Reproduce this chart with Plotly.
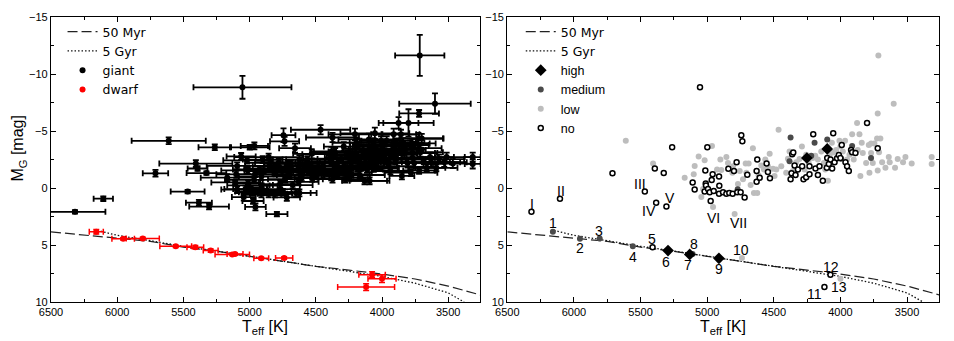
import plotly.graph_objects as go

# ---------------- data ----------------
# isochrones
iso50_teff = [6500, 6250, 6000, 5750, 5500, 5250, 5000, 4750, 4500, 4250, 4000, 3750, 3500, 3250]
iso50_mg = [3.85, 4.12, 4.38, 4.68, 5.19, 5.55, 5.99, 6.44, 6.87, 7.20, 7.55, 7.98, 8.60, 9.40]
iso5_teff = [6150, 6000, 5750, 5500, 5250, 5000, 4750, 4500, 4250, 4000, 3750, 3500, 3380]
iso5_mg = [3.72, 4.15, 4.62, 5.12, 5.53, 5.97, 6.42, 6.88, 7.26, 7.76, 8.35, 9.20, 10.0]

# giants, activity "no" (open circles)
no_teff = [6319, 6105, 5711, 5468, 5383, 5393, 5326, 5306, 5263, 5054, 5109, 5094, 5014, 4999,
           5011, 5009, 5019, 4994, 4981, 4966, 4959, 4951, 4974, 4911, 4909, 4911, 4881, 4856,
           4841, 4834, 4809, 4799, 4779, 4774, 4749, 4744, 4736, 4719, 4699, 4629, 4624, 4606,
           4629, 4554, 4544, 4529, 4374, 4367, 4362, 4354, 4344, 4337, 4319, 4287, 4277, 4257,
           4232, 4232, 4204, 4187, 4169, 4157, 4132, 4102, 4099, 4087, 4074, 4062, 4054, 4044,
           4025, 4012, 4000, 3990, 3962, 3950, 3937, 3920, 3912, 3887, 3800, 3720]
no_mg = [2.09, 0.94, -1.29, 0.31, 1.29, -1.71, -1.31, 1.63, -3.57, -8.83, -0.49, 0.14, -1.54, -3.57,
         -0.40, -0.23, 0.31, 0.09, 0.37, -0.71, -1.20, 0.26, 1.14, -1.00, -0.20, 0.51, 0.37, 0.51,
         -1.69, 0.43, 0.51, -1.49, -2.26, 0.37, 0.37, -4.63, -4.09, 0.83, -1.17, -0.54, -2.49, -0.91,
         -1.49, -2.14, -1.40, -0.86, -0.77, -1.29, -2.97, -3.11, -1.97, -1.14, -1.63, -1.91, -0.77, -0.94,
         -1.91, -1.20, -4.71, -1.71, -1.14, -1.91, -0.63, -1.77, -2.63, -2.11, -2.49, -1.71, -4.80, -2.26,
         -2.60, -2.89, -2.63, -3.77, -2.26, -1.91, -1.49, -3.34, -3.14, -3.06, -5.71, -3.49]
no_eteff = [230, 73, 96, 128, 98, 75, 150, 150, 123, 370, 180, 120, 200, 150,
            110, 160, 90, 130, 100, 220, 140, 90, 80, 170, 120, 150, 110, 140,
            200, 100, 130, 240, 180, 90, 120, 90, 110, 100, 260, 150, 200, 120,
            180, 220, 160, 130, 140, 200, 240, 160, 180, 120, 210, 150, 170, 110,
            250, 140, 200, 160, 190, 130, 170, 230, 150, 200, 120, 180, 260, 140,
            210, 170, 120, 230, 160, 190, 140, 250, 180, 150, 190, 170]
no_emg = [0.15, 0.2, 0.3, 0.15, 0.25, 0.2, 0.15, 0.25, 0.25, 1.0, 0.2, 0.3, 0.3, 0.2,
          0.3, 0.25, 0.3, 0.2, 0.3, 0.3, 0.25, 0.3, 0.25, 0.3, 0.2, 0.3, 0.25, 0.3,
          0.3, 0.2, 0.3, 0.3, 0.3, 0.25, 0.3, 0.6, 0.4, 0.3, 0.3, 0.3, 0.4, 0.3,
          0.3, 0.4, 0.3, 0.3, 0.3, 0.3, 0.4, 0.4, 0.3, 0.3, 0.3, 0.4, 0.3, 0.3,
          0.4, 0.3, 0.5, 0.3, 0.3, 0.4, 0.3, 0.4, 0.4, 0.4, 0.4, 0.3, 0.5, 0.4,
          0.4, 0.4, 0.3, 0.5, 0.4, 0.4, 0.3, 0.5, 0.4, 0.4, 1.2, 0.4]

# giants, activity "low" (light grey)
low_teff = [5611, 5406, 5169, 5101, 5064, 5094, 5031, 5044, 5019, 4964, 4956, 4926, 4901, 4894,
            4856, 4844, 4811, 4806, 4794, 4769, 4756, 4731, 4711, 4706, 4689, 4674, 4657, 4649,
            4624, 4614, 4594, 4574, 4564, 4544, 4531, 4506, 4494, 4481, 4464, 4444, 4407, 4394,
            4382, 4357, 4332, 4307, 4289, 4269, 4257, 4239, 4207, 4189, 4169, 4144, 4124, 4114,
            4094, 4082, 4064, 4057, 4032, 4007, 4000, 3982, 3965, 3950, 3932, 3912, 3900, 3875,
            3870, 3857, 3850, 3840, 3832, 3807, 3787, 3782, 3770, 3757, 3745, 3725, 3720, 3720,
            3715, 3700, 3687, 3662, 3637, 3630, 3600, 3590, 3570, 3530, 3512, 3465, 3315, 3315,
            3710, 3770]
low_mg = [-4.14, -2.14, -0.91, -1.20, -2.77, -1.94, 0.09, 0.80, -2.43, -3.69, 1.66, -1.63, -2.49, -1.57,
          -2.71, -2.20, -1.34, -1.91, 2.29, -0.34, -1.49, -0.77, -2.14, -1.34, -2.14, -0.26, -3.49, 0.43,
          0.43, -1.11, -1.97, -1.63, -2.49, -1.91, -3.00, -1.69, -1.06, -1.63, -5.11, -1.91, -1.34, -2.57,
          -3.20, -1.49, -2.26, -2.54, -3.63, -1.63, -2.91, -2.26, -2.63, -2.83, -2.49, -3.20, -2.20, -1.63,
          -0.63, -2.91, -3.97, -3.11, -3.34, -4.14, -3.63, -3.20, -4.14, -2.49, -2.91, -4.71, -2.49, -5.71,
          -3.34, -4.71, -1.06, -3.97, -3.06, -2.20, -3.77, -1.34, -3.06, -2.20, -3.91, -4.34, -6.54, -1.54,
          -11.63, -4.34, -2.26, -1.77, -2.71, -2.26, -7.40, -1.77, -2.54, -2.26, -2.71, -2.14, -2.71, -2.11,
          -3.14, -3.91]
low_eteff = [280, 276, 200, 150, 110, 230, 160, 90, 180, 103, 78, 200, 150, 120,
             260, 190, 140, 170, 80, 150, 210, 130, 180, 120, 200, 150, 120, 110,
             130, 180, 140, 220, 160, 190, 140, 170, 230, 150, 224, 180, 140, 200,
             160, 120, 250, 180, 150, 200, 130, 230, 160, 190, 140, 260, 170, 120,
             150, 200, 180, 140, 220, 160, 240, 150, 190, 130, 200, 170, 230, 150,
             180, 140, 94, 160, 250, 180, 140, 200, 170, 230, 150, 190, 150, 120,
             186, 160, 200, 140, 180, 220, 270, 160, 190, 170, 200, 150, 60, 60,
             170, 130]
low_emg = [0.3, 0.3, 0.3, 0.3, 0.3, 0.3, 0.3, 0.3, 0.3, 0.3, 0.3, 0.3, 0.3, 0.3,
           0.3, 0.3, 0.3, 0.3, 0.2, 0.3, 0.3, 0.3, 0.3, 0.3, 0.3, 0.3, 0.4, 0.3,
           0.3, 0.3, 0.3, 0.3, 0.3, 0.3, 0.4, 0.3, 0.3, 0.3, 0.4, 0.3, 0.3, 0.3,
           0.4, 0.3, 0.4, 0.4, 0.4, 0.3, 0.4, 0.4, 0.4, 0.4, 0.4, 0.4, 0.4, 0.3,
           0.3, 0.4, 0.4, 0.4, 0.4, 0.4, 0.5, 0.4, 0.4, 0.4, 0.4, 0.5, 0.4, 0.5,
           0.4, 0.4, 0.3, 0.4, 0.4, 0.4, 0.4, 0.3, 0.4, 0.4, 0.4, 0.5, 0.3, 0.3,
           1.8, 0.4, 0.4, 0.3, 0.4, 0.4, 0.9, 0.3, 0.4, 0.4, 0.4, 0.4, 0.4, 0.4,
           0.4, 0.4]

# giants, activity "medium" (dark grey)
med_teff = [4374, 4194, 4099, 3912, 4382, 4219, 3770, 3995, 4771]
med_mg = [-4.43, -3.97, -4.26, -3.69, -2.34, -2.83, -2.63, -2.57, 0.10]
med_eteff = [200, 180, 230, 160, 150, 200, 170, 140, 150]
med_emg = [0.4, 0.4, 0.5, 0.4, 0.3, 0.4, 0.4, 0.4, 0.3]

# giants, activity "high" (diamonds)
high_teff = [4252, 4099]
high_mg = [-2.63, -3.43]
high_eteff = [180, 200]
high_emg = [0.4, 0.4]

# dwarfs (numbered 1-13 in right panel)
dwarf_teff = [6158, 5955, 5807, 5558, 5410, 5294, 5131, 5110, 4912, 4739, 4120, 4075, 4000]
dwarf_mg = [3.83, 4.46, 4.43, 5.12, 5.20, 5.49, 5.83, 5.80, 6.17, 6.14, 8.69, 7.60, 7.95]
dwarf_eteff = [53, 85, 125, 120, 63, 56, 130, 60, 56, 65, 215, 100, 106]
dwarf_emg = [0.2, 0.1, 0.1, 0.1, 0.15, 0.15, 0.1, 0.1, 0.1, 0.1, 0.3, 0.25, 0.35]
dwarf_class = ["medium", "medium", "medium", "medium", "no", "high", "high", "medium",
               "high", "low", "no", "no", "low"]

# text labels in right panel
roman_text = ["I", "II", "III", "IV", "V", "VI", "VII"]
roman_teff = [6313, 6100, 5501, 5438, 5281, 4951, 4766]
roman_mg = [1.37, 0.23, -0.34, 2.03, 0.89, 2.60, 3.09]
num_text = ["1", "2", "3", "4", "5", "6", "7", "8", "9", "10", "11", "12", "13"]
num_teff = [6155, 5953, 5811, 5558, 5411, 5308, 5144, 5101, 4911, 4744, 4196, 4069, 4007]
num_mg = [3.09, 5.29, 3.74, 6.03, 4.49, 6.51, 6.74, 4.94, 7.09, 5.46, 9.29, 6.89, 8.66]

# ---------------- figure ----------------
FONT = "Liberation Sans, Arial, sans-serif"
LEG_FONT = "DejaVu Sans, sans-serif"

giant_teff = no_teff + low_teff + med_teff + high_teff
giant_mg = no_mg + low_mg + med_mg + high_mg
giant_eteff = no_eteff + low_eteff + med_eteff + high_eteff
giant_emg = no_emg + low_emg + med_emg + high_emg


def narrow(s):
    return "<span style='font-family:Liberation Sans, Arial, sans-serif'>" + s + "</span>"


fig = go.Figure()

# ---- left panel ----
fig.add_trace(go.Scatter(x=iso50_teff, y=iso50_mg, mode="lines", name="50 Myr",
                         line=dict(color="#222", width=1.2, dash="10px,4px"),
                         xaxis="x", yaxis="y", legend="legend", legendrank=1))
fig.add_trace(go.Scatter(x=iso5_teff, y=iso5_mg, mode="lines", name="5 Gyr",
                         line=dict(color="#111", width=1.3, dash="1.5px,2px"),
                         xaxis="x", yaxis="y", legend="legend", legendrank=2))
fig.add_trace(go.Scatter(x=giant_teff, y=giant_mg, mode="markers", name="giant",
                         marker=dict(color="black", size=6),
                         error_x=dict(type="data", array=giant_eteff, color="black", thickness=1.8, width=3),
                         error_y=dict(type="data", array=giant_emg, color="black", thickness=1.8, width=3),
                         xaxis="x", yaxis="y", legend="legend", legendrank=3))
fig.add_trace(go.Scatter(x=dwarf_teff, y=dwarf_mg, mode="markers", name="dwarf",
                         marker=dict(color="red", size=6),
                         error_x=dict(type="data", array=dwarf_eteff, color="red", thickness=1.5, width=3),
                         error_y=dict(type="data", array=dwarf_emg, color="red", thickness=1.5, width=3),
                         xaxis="x", yaxis="y", legend="legend", legendrank=4))

# ---- right panel ----
def dwarfs_of(cls):
    idx = [i for i, c in enumerate(dwarf_class) if c == cls]
    return [dwarf_teff[i] for i in idx], [dwarf_mg[i] for i in idx]


fig.add_trace(go.Scatter(x=iso50_teff, y=iso50_mg, mode="lines", name="50 Myr",
                         line=dict(color="#222", width=1.2, dash="10px,4px"),
                         xaxis="x2", yaxis="y2", legend="legend2", legendrank=1))
fig.add_trace(go.Scatter(x=iso5_teff, y=iso5_mg, mode="lines", name="5 Gyr",
                         line=dict(color="#111", width=1.3, dash="1.5px,2px"),
                         xaxis="x2", yaxis="y2", legend="legend2", legendrank=2))

dx, dy = dwarfs_of("low")
fig.add_trace(go.Scatter(x=low_teff + dx, y=low_mg + dy, mode="markers", name=narrow("low"),
                         marker=dict(color="#bdbdbd", size=6),
                         xaxis="x2", yaxis="y2", legend="legend2", legendrank=5))
dx, dy = dwarfs_of("medium")
fig.add_trace(go.Scatter(x=med_teff + dx, y=med_mg + dy, mode="markers", name=narrow("medium"),
                         marker=dict(color="#4a4a4a", size=6),
                         xaxis="x2", yaxis="y2", legend="legend2", legendrank=4))
dx, dy = dwarfs_of("no")
fig.add_trace(go.Scatter(x=no_teff + dx, y=no_mg + dy, mode="markers", name=narrow("no"),
                         marker=dict(color="white", size=5, line=dict(color="black", width=1.5)),
                         xaxis="x2", yaxis="y2", legend="legend2", legendrank=6))
dx, dy = dwarfs_of("high")
fig.add_trace(go.Scatter(x=high_teff + dx, y=high_mg + dy, mode="markers", name=narrow("high"),
                         marker=dict(color="black", size=9, symbol="diamond"),
                         xaxis="x2", yaxis="y2", legend="legend2", legendrank=3))

annotations = []
for t, x, y in zip(roman_text + num_text, roman_teff + num_teff, roman_mg + num_mg):
    annotations.append(dict(text=t, x=x, y=y, xref="x2", yref="y2", showarrow=False,
                            font=dict(family=FONT, size=14, color="black")))
# x-axis titles placed under each panel
for xr in ["x domain", "x2 domain"]:
    annotations.append(dict(text="T<sub>eff</sub> [K]", x=0.5, y=-0.088, xref=xr, yref="paper",
                            xanchor="center", yanchor="middle", showarrow=False,
                            font=dict(family=FONT, size=16, color="black")))
# y-axis title of left panel
annotations.append(dict(text="M<sub>G</sub> [mag]", x=-0.0366, y=0.54, xref="paper", yref="paper",
                        xanchor="center", yanchor="middle", textangle=-90, showarrow=False,
                        font=dict(family=FONT, size=16, color="black")))

xcommon = dict(range=[6500, 3260], tick0=0, dtick=500, ticks="inside", ticklen=5, tickwidth=1.2,
               tickcolor="black", mirror="allticks", showline=True, linecolor="black", linewidth=1.3,
               showgrid=False, zeroline=False,
               minor=dict(ticks="inside", ticklen=3, dtick=250, tick0=0, tickcolor="black", tickwidth=1),
               tickfont=dict(family=FONT, size=11, color="black"))
ycommon = dict(range=[10, -15], tick0=0, dtick=5, ticks="inside", ticklen=5, tickwidth=1.2,
               tickcolor="black", mirror="allticks", showline=True, linecolor="black", linewidth=1.3,
               showgrid=False, zeroline=False,
               minor=dict(ticks="inside", ticklen=3, dtick=2.5, tick0=0, tickcolor="black", tickwidth=1),
               tickfont=dict(family=FONT, size=11, color="black"))

fig.update_layout(
    width=954, height=341,
    margin=dict(l=51, r=15, t=11, b=39),
    paper_bgcolor="white", plot_bgcolor="white",
    xaxis=dict(domain=[0, 0.4831], anchor="y", **xcommon),
    yaxis=dict(domain=[0, 1], anchor="x", **ycommon),
    xaxis2=dict(domain=[0.5139, 1], anchor="y2", **xcommon),
    yaxis2=dict(domain=[0, 1], anchor="x2", **ycommon),
    legend=dict(x=0.013, y=1.0, xanchor="left", yanchor="top", bgcolor="rgba(0,0,0,0)",
                font=dict(family=LEG_FONT, size=12.5, color="black"), tracegroupgap=0),
    legend2=dict(x=0.529, y=1.0, xanchor="left", yanchor="top", bgcolor="rgba(0,0,0,0)",
                 font=dict(family=LEG_FONT, size=12.5, color="black"), tracegroupgap=0),
    annotations=annotations,
    showlegend=True,
)

fig.write_html("out.html", config={"displayModeBar": False},
               post_script="document.body.style.margin='0';")
